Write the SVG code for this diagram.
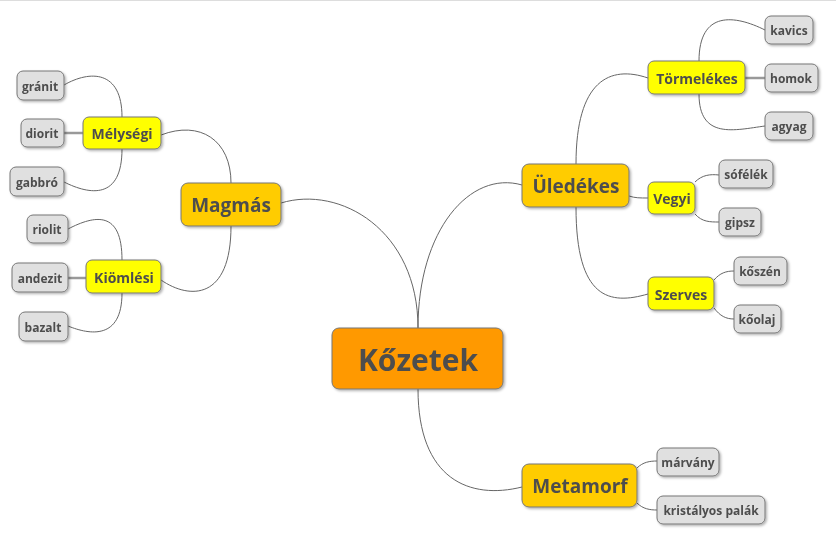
<svg xmlns="http://www.w3.org/2000/svg" width="836" height="543" viewBox="0 0 836 543">
<style>
text{font-family:"Open Sans","DejaVu Sans",sans-serif;font-weight:bold;fill:#4d4d4d;text-anchor:middle;dominant-baseline:central}
rect{stroke:#777;stroke-width:1}
.r{fill:#ff9900}.o{fill:#ffcc00}.y{fill:#ffff00}.g{fill:#e0e0e0}
.c path{fill:none;stroke:#666;stroke-width:1}
.c path.s{stroke:#999;stroke-width:2.5}
g.n{filter:url(#sh)}
</style>
<defs><filter id="sh" x="-20%" y="-20%" width="150%" height="160%"><feDropShadow dx="1.5" dy="1.5" stdDeviation="1" flood-color="#000" flood-opacity="0.3"/></filter></defs>
<line x1="0" y1="0.5" x2="836" y2="0.5" stroke="#ddd"/>
<g class="c">
<path d="M418,328 C418,230 340,185 281,203"/>
<path d="M418,328 C418,230 470,170 522,185"/>
<path d="M418,389 C418,480 470,500 522,487"/>
<path d="M231,183 C231,140 200,120 161,135"/>
<path d="M231,226 C231,300 190,300 161,280"/>
<path d="M122,117 C122,70 90,70 64,85"/>
<path class="s" d="M64,133 L83,133"/>
<path d="M122,149 C122,200 90,195 64,182"/>
<path d="M122,260 C122,210 95,215 68,229"/>
<path class="s" d="M68,278 L86,278"/>
<path d="M122,293 C122,340 90,335 68,326"/>
<path d="M576,164 C576,80 610,65 648,78"/>
<path d="M629,196 C635,198 640,198 648,198"/>
<path d="M576,207 C576,300 610,305 648,294"/>
<path d="M699,61 C699,10 735,15 765,30"/>
<path class="s" d="M745,78 L765,78"/>
<path d="M699,94 C699,140 735,130 765,126"/>
<path d="M695,182 C702,175 710,174 719,175"/>
<path d="M695,214 C702,222 710,222 719,222"/>
<path d="M714,280 C720,273 726,271 734,271"/>
<path d="M714,308 C720,316 726,319 734,319"/>
<path d="M637,468 C643,462 650,461 657,461"/>
<path d="M637,503 C643,509 650,510 657,510"/>
</g>
<g id="kozetek" class="n"><rect class="r" x="332" y="328" width="171" height="61" rx="7"/><text x="418" y="359" font-size="30">Kőzetek</text></g>
<g id="magmas" class="n"><rect class="o" x="181" y="183" width="100" height="43" rx="7"/><text x="231" y="205" font-size="19">Magmás</text></g>
<g id="uledekes" class="n"><rect class="o" x="522" y="164" width="107" height="43" rx="7"/><text x="576" y="186" font-size="19">Üledékes</text></g>
<g id="metamorf" class="n"><rect class="o" x="522" y="464" width="115" height="43" rx="7"/><text x="580" y="486" font-size="19">Metamorf</text></g>
<g id="melysegi" class="n"><rect class="y" x="83" y="117" width="78" height="32" rx="6"/><text x="122" y="133" font-size="14">Mélységi</text></g>
<g id="kiomlesi" class="n"><rect class="y" x="86" y="260" width="75" height="33" rx="6"/><text x="124" y="277" font-size="14">Kiömlési</text></g>
<g id="tormelekes" class="n"><rect class="y" x="648" y="61" width="97" height="33" rx="6"/><text x="697" y="78" font-size="14">Törmelékes</text></g>
<g id="vegyi" class="n"><rect class="y" x="648" y="182" width="47" height="32" rx="6"/><text x="672" y="198" font-size="14">Vegyi</text></g>
<g id="szerves" class="n"><rect class="y" x="648" y="277" width="66" height="33" rx="6"/><text x="681" y="294" font-size="14">Szerves</text></g>
<g id="granit" class="n"><rect class="g" x="17" y="71" width="47" height="29" rx="6"/><text x="40" y="86" font-size="12">gránit</text></g>
<g id="diorit" class="n"><rect class="g" x="21" y="119" width="43" height="28" rx="6"/><text x="42" y="133" font-size="12">diorit</text></g>
<g id="gabbro" class="n"><rect class="g" x="10" y="167" width="54" height="29" rx="6"/><text x="37" y="182" font-size="12">gabbró</text></g>
<g id="riolit" class="n"><rect class="g" x="27" y="215" width="41" height="28" rx="6"/><text x="47" y="229" font-size="12">riolit</text></g>
<g id="andezit" class="n"><rect class="g" x="12" y="263" width="56" height="29" rx="6"/><text x="40" y="278" font-size="12">andezit</text></g>
<g id="bazalt" class="n"><rect class="g" x="19" y="312" width="49" height="29" rx="6"/><text x="43" y="327" font-size="12">bazalt</text></g>
<g id="kavics" class="n"><rect class="g" x="765" y="16" width="48" height="28" rx="6"/><text x="789" y="30" font-size="12">kavics</text></g>
<g id="homok" class="n"><rect class="g" x="765" y="64" width="53" height="28" rx="6"/><text x="791" y="78" font-size="12">homok</text></g>
<g id="agyag" class="n"><rect class="g" x="765" y="112" width="48" height="28" rx="6"/><text x="789" y="126" font-size="12">agyag</text></g>
<g id="sofelek" class="n"><rect class="g" x="719" y="160" width="54" height="28" rx="6"/><text x="746" y="174" font-size="12">sófélék</text></g>
<g id="gipsz" class="n"><rect class="g" x="719" y="208" width="42" height="28" rx="6"/><text x="740" y="222" font-size="12">gipsz</text></g>
<g id="koszen" class="n"><rect class="g" x="734" y="257" width="53" height="28" rx="6"/><text x="760" y="271" font-size="12">kőszén</text></g>
<g id="koolaj" class="n"><rect class="g" x="734" y="305" width="47" height="28" rx="6"/><text x="757" y="319" font-size="12">kőolaj</text></g>
<g id="marvany" class="n"><rect class="g" x="657" y="448" width="62" height="28" rx="6"/><text x="688" y="462" font-size="12">márvány</text></g>
<g id="kristalyos" class="n"><rect class="g" x="657" y="496" width="108" height="28" rx="6"/><text x="711" y="510" font-size="12">kristályos palák</text></g>
</svg>
